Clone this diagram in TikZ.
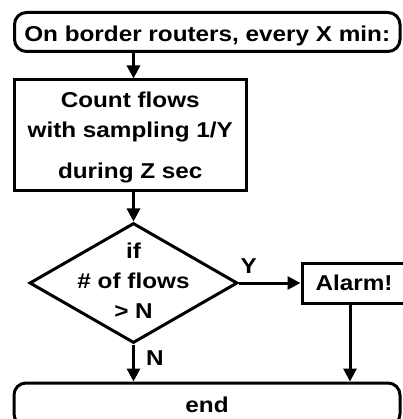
\documentclass[tikz,border=0pt]{standalone}
\usepackage{fontspec}
\setmainfont{Liberation Sans}[FakeStretch=1.13]
\usetikzlibrary{shapes.geometric,arrows.meta}
\begin{document}
\begin{tikzpicture}[x=1pt,y=-1pt,
  every node/.style={font=\bfseries\fontsize{21.5}{30}\selectfont, text=black},
  lw/.style={line width=3pt},
  term/.style={draw, lw, rounded corners=12pt, inner sep=0pt},
  proc/.style={draw, lw, rectangle, inner sep=0pt},
  decide/.style={draw, lw, diamond, inner sep=0pt},
  arr/.style={lw, -{Triangle[length=13pt,width=13pt]}},
  lbl/.style={inner sep=0pt}]
\useasboundingbox (0,0) rectangle (402,419);
\node[term, minimum width=385.5pt, minimum height=39pt, text height=19.4pt, text depth=0pt]
  (top) at (207.25,32) {On border routers, every X min:};
\node[proc, minimum width=231.5pt, minimum height=110.5pt,
  label={[lbl, align=center, yshift=-2pt]center:{Count flows\\with sampling 1/Y\\[11pt]during Z sec}}]
  (count) at (130.25,135.25) {};
\node[decide, minimum width=208pt, minimum height=120pt,
  label={[lbl, align=center, yshift=2.7pt]center:{if\\\# of flows\\> N}}]
  (dec) at (133.5,283) {};
\node[proc, minimum width=104pt, minimum height=40pt, text height=14pt, text depth=0pt]
  (alarm) at (354,283) {Alarm!};
\node[term, minimum width=386pt, minimum height=43pt, text height=15pt, text depth=0pt]
  (endbox) at (207,404.5) {end};
\draw[arr] (dec.north |- top.south) -- (dec.north |- count.north);
\draw[arr] (dec.north |- count.south) -- (dec.north);
\draw[arr] (dec.east) -- node[lbl, at start, anchor=south west, yshift=8pt]{Y} (alarm.west);
\draw[arr] (dec.south) -- node[lbl, at start, anchor=north west, xshift=11pt, yshift=-5pt]{N} (dec.south |- endbox.north);
\draw[arr] ([xshift=-4pt]alarm.south) -- ([xshift=-4pt]alarm.south |- endbox.north);
\end{tikzpicture}
\end{document}
